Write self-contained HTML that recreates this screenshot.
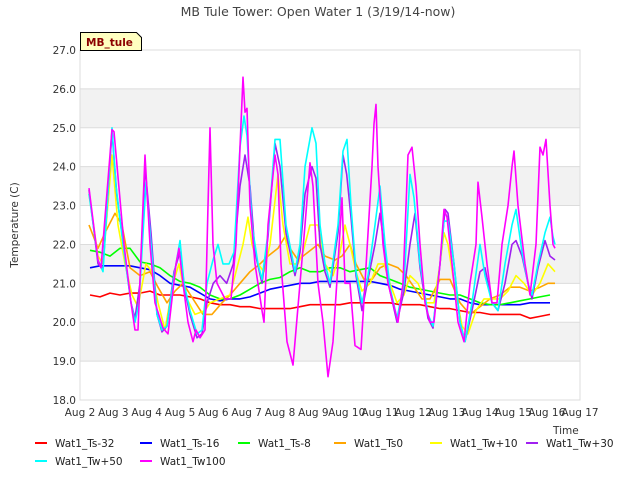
<!DOCTYPE html>
<html><head><meta charset="utf-8"><style>
body{margin:0;background:#fff;width:640px;height:480px;overflow:hidden;font-family:"DejaVu Sans","Liberation Sans",sans-serif;}
svg text{font-family:"DejaVu Sans","Liberation Sans",sans-serif;}
</style></head><body>
<svg id="chart" width="640" height="480" xmlns="http://www.w3.org/2000/svg"></svg>
<script>
const yTicks=[18,19,20,21,22,23,24,25,26,27];
const xTickLabels=["Aug 2","Aug 3","Aug 4","Aug 5","Aug 6","Aug 7","Aug 8","Aug 9","Aug 10","Aug 11","Aug 12","Aug 13","Aug 14","Aug 15","Aug 16","Aug 17"];
const xTickDays=[2,3,4,5,6,7,8,9,10,11,12,13,14,15,16,17];
const seriesNames=["Wat1_Ts-32","Wat1_Ts-16","Wat1_Ts-8","Wat1_Ts0","Wat1_Tw+10","Wat1_Tw+30","Wat1_Tw+50","Wat1_Tw100"];
const seriesColors=["#ff0000","#0000ff","#00ff00","#ffa500","#ffff00","#a020f0","#00ffff","#ff00ff"];
const gridStart=2.3, gridStep=0.3;
const ts32=[20.7,20.65,20.75,20.7,20.75,20.75,20.8,20.7,20.7,20.7,20.65,20.6,20.5,20.45,20.45,20.4,20.4,20.35,20.35,20.35,20.35,20.4,20.45,20.45,20.45,20.45,20.5,20.5,20.5,20.5,20.5,20.45,20.45,20.45,20.4,20.35,20.35,20.3,20.25,20.25,20.2,20.2,20.2,20.2,20.1,20.15,20.2];
const ts16=[21.4,21.45,21.45,21.45,21.45,21.4,21.35,21.2,21.0,20.95,20.9,20.75,20.6,20.55,20.6,20.6,20.65,20.75,20.85,20.9,20.95,21,21,21.05,21.05,21.05,21.05,21.05,21.05,21,20.95,20.85,20.8,20.75,20.7,20.65,20.6,20.6,20.5,20.45,20.45,20.45,20.45,20.45,20.5,20.5,20.5];
const ts8=[21.85,21.8,21.7,21.9,21.9,21.55,21.5,21.4,21.2,21.05,21.0,20.9,20.7,20.6,20.6,20.7,20.85,21.0,21.1,21.15,21.3,21.4,21.3,21.3,21.4,21.4,21.3,21.35,21.4,21.2,21.1,21.0,20.9,20.85,20.8,20.75,20.7,20.7,20.6,20.5,20.45,20.45,20.5,20.55,20.6,20.65,20.7];
const ts0T=[2.27,2.54,2.75,3.05,3.26,3.5,3.8,4.1,4.34,4.61,4.85,5.09,5.39,5.69,5.96,6.26,6.5,6.8,7.1,7.4,7.64,7.94,8.15,8.3,8.54,8.84,9.14,9.35,9.65,9.86,10.1,10.28,10.52,10.76,11.0,11.24,11.54,11.78,12.02,12.26,12.5,12.8,13.1,13.4,13.7,14.0,14.3,14.6,14.9,15.2,15.5,15.8,16.04,16.25];
const ts0V=[22.5,21.9,22.3,22.8,22.5,21.4,21.2,21.3,20.9,20.5,20.8,21,20.6,20.2,20.2,20.5,20.7,21,21.3,21.5,21.7,21.9,22.2,21.9,21.6,21.8,22,21.7,21.6,21.7,22,21.5,21.1,21.1,21.4,21.5,21.4,21.2,20.9,20.6,20.6,21.1,21.1,20.5,20.2,20.4,20.6,20.7,20.9,20.9,20.8,20.9,21,21];
const tw10T=[2.27,2.54,2.69,2.96,3.14,3.35,3.56,3.74,3.98,4.16,4.34,4.55,4.79,4.97,5.15,5.45,5.75,5.9,6.2,6.5,6.74,6.89,7.04,7.16,7.34,7.52,7.7,7.94,8.09,8.3,8.54,8.69,8.9,9.14,9.35,9.59,9.8,9.95,10.1,10.28,10.46,10.7,10.94,11.12,11.3,11.51,11.72,11.9,12.14,12.38,12.62,12.8,12.92,13.04,13.22,13.46,13.64,13.88,14.12,14.36,14.6,14.84,15.08,15.32,15.56,15.8,16.04,16.25];
const tw10V=[23.3,21.7,21.5,24.3,22.5,21.5,20.7,20.4,21.5,21.3,20.5,19.8,21,21.5,20.7,20.2,20.3,20.5,20.6,20.7,21.5,22,22.7,22,21.5,21.3,22,23.8,22.5,21.5,21.5,21.8,22.5,22.5,21.5,21.2,21.8,22.5,22,21.3,20.8,21,21.5,21.5,21,20.5,20.7,21.2,21,20.5,20.5,21.5,22.3,22,21,19.9,19.7,20.3,20.6,20.6,20.6,20.8,21.2,21,20.7,21,21.5,21.3];
const tw30T=[2.27,2.54,2.69,2.96,3.1,3.3,3.53,3.65,3.8,3.95,4.13,4.31,4.46,4.61,4.82,5.0,5.15,5.3,5.51,5.66,5.81,6.0,6.2,6.4,6.6,6.8,6.95,7.1,7.25,7.46,7.64,7.85,8.0,8.18,8.45,8.6,8.75,8.96,9.08,9.2,9.35,9.5,9.74,9.89,10.0,10.13,10.28,10.46,10.64,10.85,11.0,11.15,11.3,11.51,11.72,11.9,12.05,12.2,12.44,12.59,12.8,12.95,13.04,13.22,13.4,13.55,13.76,14.0,14.15,14.36,14.54,14.75,14.96,15.08,15.26,15.44,15.56,15.74,15.95,16.1,16.25];
const tw30V=[23.4,21.5,21.4,24.9,23.3,22,20.5,20.1,21,24,22.3,20.2,19.75,19.9,21.3,21.8,20.8,20.2,19.6,19.7,20.5,21,21.2,21,21.5,23.5,24.3,23.5,21.8,21,22.2,24.6,24,22.3,21.2,21.8,23.3,24,23.7,22,21.3,20.9,22.3,24.3,23.8,22.7,21.2,20.3,21.1,22,22.8,21.8,20.8,20,20.8,22,22.8,21.4,20.1,19.85,21.5,22.9,22.8,21.5,20,19.5,20.3,21.3,21.4,20.5,20.3,21,22,22.1,21.7,21,20.6,21.4,22.1,21.7,21.6];
const tw50T=[2.27,2.54,2.69,2.96,3.08,3.29,3.53,3.65,3.77,3.98,4.13,4.31,4.46,4.61,4.82,5.0,5.12,5.3,5.51,5.66,5.81,5.99,6.14,6.29,6.47,6.62,6.8,6.92,7.01,7.16,7.34,7.46,7.64,7.85,8.0,8.18,8.45,8.6,8.75,8.96,9.08,9.2,9.35,9.5,9.74,9.89,10.01,10.13,10.28,10.46,10.64,10.85,11.0,11.15,11.3,11.51,11.72,11.9,12.02,12.2,12.44,12.59,12.8,12.92,13.04,13.22,13.4,13.55,13.76,14.0,14.15,14.36,14.54,14.75,14.96,15.08,15.26,15.44,15.56,15.74,15.95,16.1,16.19,16.25];
const tw50V=[23.3,21.6,21.3,25,23.5,22,20.5,20,20.5,23.6,22,20.2,19.8,19.9,21.2,22.1,21,20.3,19.7,19.8,21,21.6,22,21.5,21.5,21.8,24.5,25.3,24.8,22.5,21.5,21.1,22.3,24.7,24.7,22.5,21.3,22,24,25,24.6,22.5,21.5,21,22.5,24.4,24.7,23,21.3,20.5,21.2,22.5,23.5,22,20.9,20.1,21,23.8,23.2,21.5,20.2,19.9,21.5,22.6,22.6,21.5,20,19.5,20.5,22,21.2,20.5,20.3,21.5,22.5,22.9,21.8,21,20.7,21.5,22.3,22.7,22.2,22];
const tw100T=[2.27,2.54,2.63,2.96,3.02,3.32,3.53,3.65,3.74,3.95,4.1,4.25,4.49,4.64,4.88,4.97,5.09,5.24,5.39,5.48,5.6,5.75,5.84,5.9,5.99,6.11,6.35,6.53,6.68,6.8,6.89,6.95,7.01,7.1,7.25,7.46,7.52,7.64,7.85,7.94,8.03,8.21,8.39,8.6,8.75,8.9,8.99,9.14,9.29,9.44,9.59,9.74,9.86,9.95,10.1,10.25,10.43,10.55,10.76,10.82,10.88,10.94,11.09,11.24,11.39,11.54,11.69,11.84,11.96,12.08,12.2,12.35,12.5,12.62,12.8,12.92,13.01,13.16,13.34,13.52,13.7,13.88,13.94,14.06,14.21,14.36,14.51,14.66,14.84,14.96,15.02,15.14,15.35,15.5,15.68,15.8,15.89,15.98,16.1,16.19,16.25];
const tw100V=[23.45,21.6,21.4,24.95,24.9,22,20.5,19.8,19.8,24.3,22,20.5,19.85,19.7,21.5,21.9,21,20,19.5,19.8,19.6,19.8,23,25,22,21,20.6,20.6,22,24.5,26.3,25.4,25.5,23,21.5,20.3,20,22.5,24.3,23.8,21.5,19.5,18.9,21,22.5,24.1,23.5,21,20,18.6,19.5,21.5,23.2,21,21,19.4,19.3,21,24,25.1,25.6,24,22,21,20.5,20,21,24.3,24.5,23.5,22,20.5,20,20,21.5,22.9,22.7,21.5,20,19.5,21,22,23.6,22.7,21.5,20.5,20.5,22,23,24,24.4,23,21.5,20.7,22,24.5,24.3,24.7,23,22,21.9];

const NS="http://www.w3.org/2000/svg";
const svg=document.getElementById('chart');
const L=80,R=580,T=50,B=400;
const xS=d=>L+(d-2)/15*(R-L);
const yS=v=>B-(v-18)/9*(B-T);
function mk(tag,attrs,parent){const e=document.createElementNS(NS,tag);for(const k in attrs)e.setAttribute(k,attrs[k]);(parent||svg).appendChild(e);return e;}

for(let i=0;i<yTicks.length-1;i++){
  if(i%2===1){const r=mk('rect',{x:L,y:yS(yTicks[i+1]),width:R-L,height:yS(yTicks[i])-yS(yTicks[i+1]),fill:'#f2f2f2'});
  
  }
}
yTicks.forEach(v=>{
  const g=mk('line',{x1:L,x2:R,y1:yS(v),y2:yS(v),stroke:'#dcdcdc','stroke-width':1});
  
  
  const t=mk('text',{x:L-4,y:yS(v)+4,'text-anchor':'end','font-size':10.5,fill:'#333'});
  t.textContent=v.toFixed(1);
  
  
});
xTickDays.forEach((d,i)=>{
  const t=mk('text',{x:xS(d),y:B+16,'text-anchor':'middle','font-size':10.5,fill:'#333'});
  t.textContent=xTickLabels[i];
  
  
});
const frame=mk('rect',{x:L,y:T,width:R-L,height:B-T,fill:'none',stroke:'#dcdcdc'});



function gridTimes(n){const a=[];for(let k=0;k<n;k++)a.push(gridStart+gridStep*k);return a;}
const seriesData=[[gridTimes(ts32.length),ts32],[gridTimes(ts16.length),ts16],[gridTimes(ts8.length),ts8],[ts0T,ts0V],[tw10T,tw10V],[tw30T,tw30V],[tw50T,tw50V],[tw100T,tw100V]];
seriesData.forEach((s,i)=>{
  const n=Math.min(s[0].length,s[1].length);
  let d='';
  for(let k=0;k<n;k++)d+=(k?'L':'M')+xS(s[0][k]).toFixed(1)+','+yS(s[1][k]).toFixed(1);
  const p=mk('path',{d:d,fill:'none',stroke:seriesColors[i],'stroke-width':1.6,'stroke-linejoin':'round'});
  
  
});

const title=mk('text',{x:318,y:16,'text-anchor':'middle','font-size':12.5,fill:'#444'});
title.textContent='MB Tule Tower: Open Water 1 (3/19/14-now)';


const yl=mk('text',{x:18,y:225,'text-anchor':'middle','font-size':10.5,fill:'#333',transform:'rotate(-90 18 225)'});
yl.textContent='Temperature (C)';


const xl=mk('text',{x:553,y:434,'font-size':10.5,fill:'#333'});
xl.textContent='Time';



const box=mk('path',{d:'M80.5,50.5 L80.5,32.5 L136.5,32.5 L141.5,37.5 L141.5,50.5 Z',fill:'#ffffc0',stroke:'#000','stroke-width':1});


const bt=mk('text',{x:86,y:46,'font-size':10.5,'font-weight':'bold',fill:'#8b0000'});
bt.textContent='MB_tule';



const legX=[35,140,238,334,430,526,35,140];
const legY=[443,443,443,443,443,443,461,461];
seriesNames.forEach((nm,i)=>{
  const ln=mk('line',{x1:legX[i],x2:legX[i]+12,y1:legY[i],y2:legY[i],stroke:seriesColors[i],'stroke-width':2});
  
  
  const t=mk('text',{x:legX[i]+20,y:legY[i]+4,'font-size':10.5,fill:'#222'});
  t.textContent=nm;
  
  
});
</script>
</body></html>
